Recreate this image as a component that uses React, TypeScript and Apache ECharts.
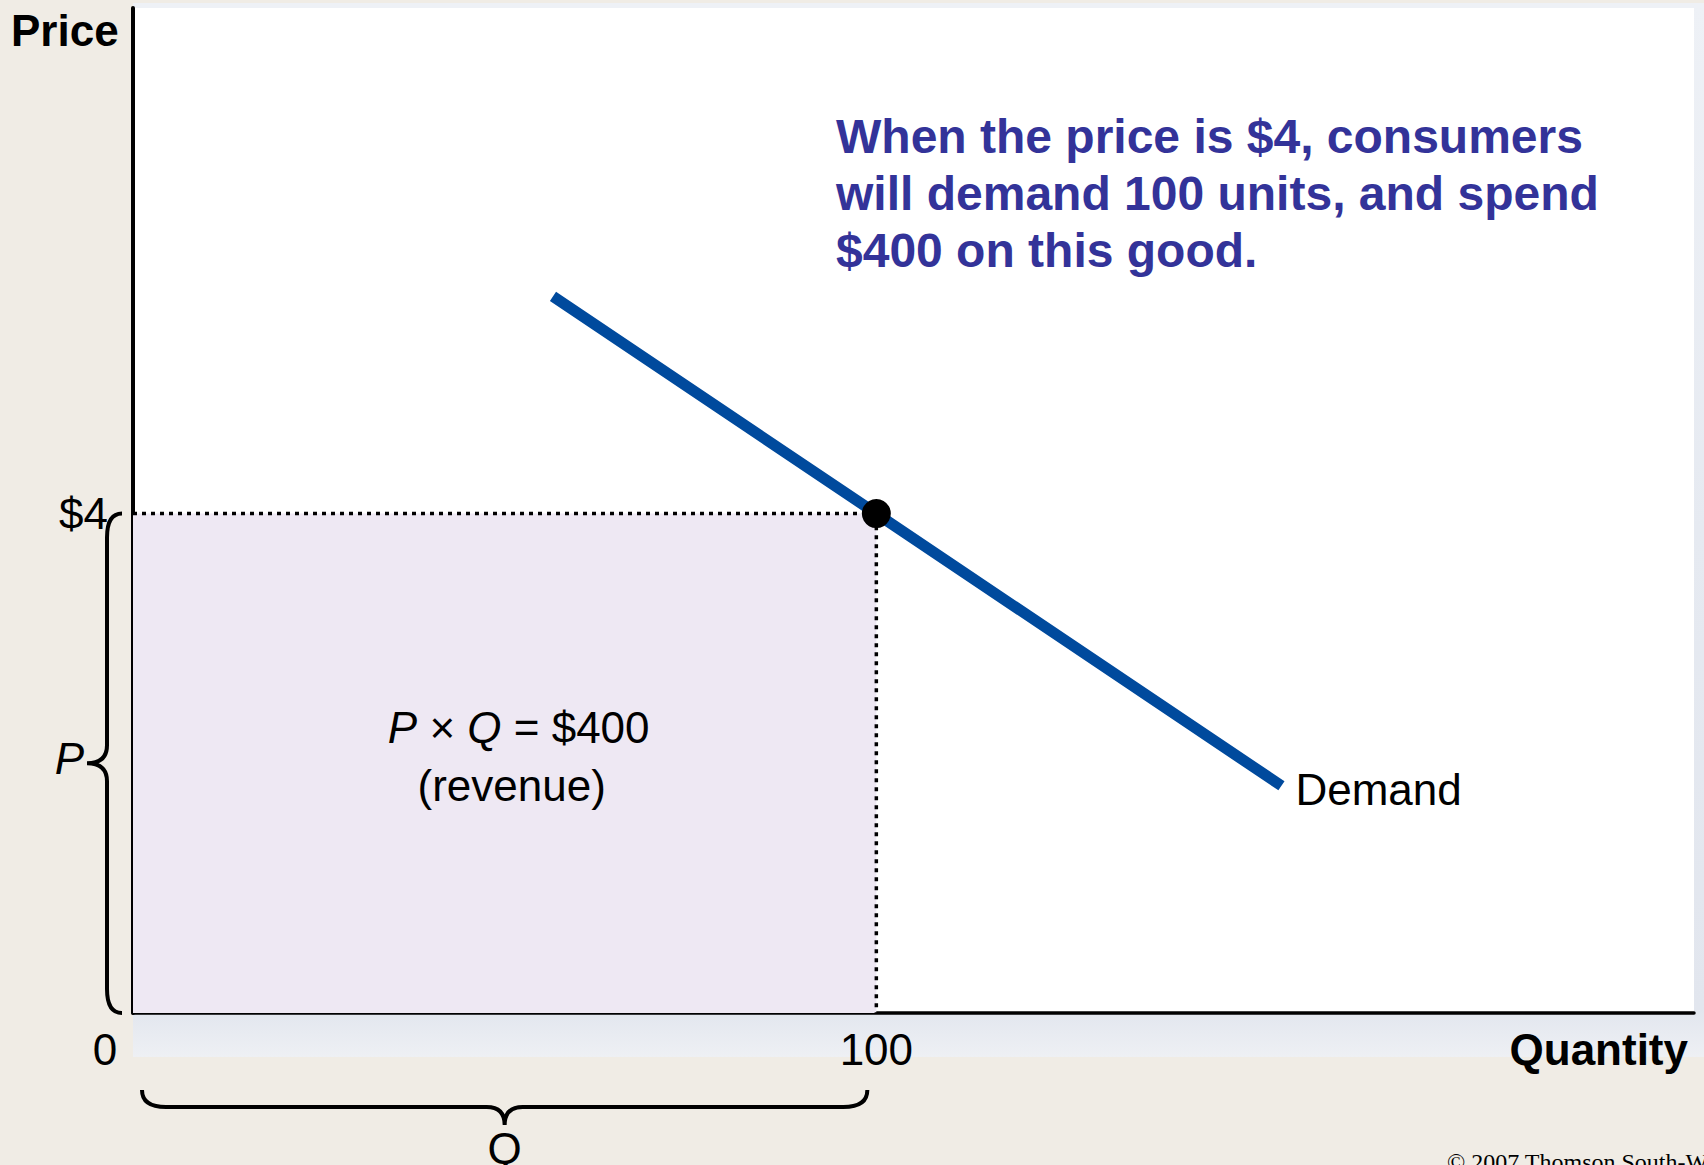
import React, { useEffect, useRef } from 'react';
import * as echarts from 'echarts';

// ---- data ----
const quantityRange = [0, 210];
const priceRange = [0, 8.05];
const demandQuantity = [56.5, 100, 154.5];
const demandPrice = [5.74, 4, 1.82];
const pointQuantity = 100;
const pointPrice = 4;
const xTickValues = [100];
const yTickValues = [4];
const annotationLines = [
  'When the price is $4, consumers',
  'will demand 100 units, and spend',
  '$400 on this good.',
];
const revenueLines = ['{i|P} × {i|Q} = $400', '(revenue)'];

const SANS = '"Liberation Sans", Arial, Helvetica, sans-serif';
const SERIF = '"Liberation Serif", "Times New Roman", serif';

export default function App() {
  const ref = useRef<HTMLDivElement>(null);

  useEffect(() => {
    const chart = echarts.init(ref.current!, null, { renderer: 'svg' });

    chart.setOption({
      animation: false,
      backgroundColor: '#F0ECE5',
      grid: { left: 133, right: 10, top: 8, bottom: 152, containLabel: false, outerBoundsMode: 'none' },
      xAxis: {
        type: 'value',
        min: quantityRange[0],
        max: quantityRange[1],
        interval: 100,
        axisLine: { show: true, onZero: false, lineStyle: { color: '#000', width: 3.5 } },
        axisTick: { show: false },
        splitLine: { show: false },
        axisLabel: {
          formatter: (v: number) => (xTickValues.includes(v) ? String(v) : ''),
          fontSize: 44,
          color: '#000',
          fontFamily: SANS,
          margin: 14,
          showMaxLabel: false,
        },
      },
      yAxis: {
        type: 'value',
        min: priceRange[0],
        max: priceRange[1],
        interval: 4,
        axisLine: { show: true, onZero: false, lineStyle: { color: '#000', width: 4 } },
        axisTick: { show: false },
        splitLine: { show: false },
        axisLabel: {
          formatter: (v: number) => (yTickValues.includes(v) ? '$' + v : ''),
          fontSize: 44,
          color: '#000',
          fontFamily: SANS,
          margin: 25,
          showMaxLabel: false,
        },
      },
      series: [
        {
          type: 'line',
          data: [
            [0, pointPrice],
            [pointQuantity, pointPrice],
            [pointQuantity, 0],
          ],
          symbol: 'none',
          lineStyle: { color: '#000', width: 3.5, type: [4, 5] },
          z: 3,
          silent: true,
          markArea: {
            silent: true,
            itemStyle: { color: '#EEE8F3', borderWidth: 0 },
            data: [[{ coord: [0, 0] }, { coord: [pointQuantity, pointPrice] }]],
          },
        },
        {
          type: 'line',
          data: demandQuantity.map((q, i) => [q, demandPrice[i]]),
          symbol: 'none',
          lineStyle: { color: '#004A9D', width: 11, cap: 'butt' },
          z: 4,
          silent: true,
        },
        {
          type: 'scatter',
          data: [[pointQuantity, pointPrice]],
          symbolSize: 29,
          itemStyle: { color: '#000', opacity: 1 },
          z: 5,
          silent: true,
        },
      ],
    });

    const O = chart.convertToPixel({ gridIndex: 0 }, [0, 0]) as number[];
    const A = chart.convertToPixel({ gridIndex: 0 }, [pointQuantity, pointPrice]) as number[];
    const TR = chart.convertToPixel({ gridIndex: 0 }, [quantityRange[1], priceRange[1]]) as number[];
    const last = demandQuantity.length - 1;
    const E = chart.convertToPixel({ gridIndex: 0 }, [demandQuantity[last], demandPrice[last]]) as number[];

    // P brace (vertical, pointing left)
    const xe = O[0] - 11, xl = O[0] - 26, xt = O[0] - 46;
    const y0 = A[1], y1 = O[1], ym = (y0 + y1) / 2;
    const re = 24, rm = 18;
    const dP = `M${xe} ${y0} Q${xl} ${y0} ${xl} ${y0 + re} L${xl} ${ym - rm} Q${xl} ${ym} ${xt} ${ym} Q${xl} ${ym} ${xl} ${ym + rm} L${xl} ${y1 - re} Q${xl} ${y1} ${xe} ${y1}`;

    // Q brace (horizontal, pointing down)
    const x0 = O[0] + 9, x1 = A[0] - 9, xm = (x0 + x1) / 2;
    const ye = O[1] + 77, yl = O[1] + 94, yt = O[1] + 112;
    const dQ = `M${x0} ${ye} Q${x0} ${yl} ${x0 + re} ${yl} L${xm - rm} ${yl} Q${xm} ${yl} ${xm} ${yt} Q${xm} ${yl} ${xm + rm} ${yl} L${x1 - re} ${yl} Q${x1} ${yl} ${x1} ${ye}`;

    echarts.graphic.registerShape('braceP', echarts.graphic.extendPath(dP, {}));
    echarts.graphic.registerShape('braceQ', echarts.graphic.extendPath(dQ, {}));

    const rectCx = (O[0] + A[0]) / 2;

    chart.setOption({
      graphic: {
        elements: [
          {
            type: 'rect',
            z: -10,
            silent: true,
            shape: { x: O[0], y: TR[1] - 5, width: 1704 - O[0], height: O[1] + 44 - (TR[1] - 5) },
            style: {
              fill: new echarts.graphic.LinearGradient(0, 0, 0, 1, [
                { offset: 0, color: '#EEF1F6' },
                { offset: 0.5, color: '#E6EAF1' },
                { offset: 0.955, color: '#E2E6EE' },
                { offset: 1, color: '#EEF0F4' },
              ]),
            },
          },
          {
            type: 'rect',
            z: -9,
            silent: true,
            shape: { x: O[0], y: TR[1], width: TR[0] - O[0], height: O[1] - TR[1] },
            style: { fill: '#FFFFFF' },
          },
          {
            type: 'braceP',
            z: 10,
            x: 0,
            y: 0,
            scaleX: 1,
            scaleY: 1,
            style: { fill: 'none', stroke: '#000', lineWidth: 4 },
          },
          {
            type: 'braceQ',
            z: 10,
            x: 0,
            y: 0,
            scaleX: 1,
            scaleY: 1,
            style: { fill: 'none', stroke: '#000', lineWidth: 4 },
          },
          {
            type: 'text',
            z: 10,
            x: 11,
            y: 30,
            style: { text: 'Price', fontSize: 44, fontWeight: 'bold', fontFamily: SANS, fill: '#000', align: 'left', verticalAlign: 'middle' },
          },
          {
            type: 'text',
            z: 10,
            x: TR[0] - 6,
            y: O[1] + 36,
            style: { text: 'Quantity', fontSize: 44, fontWeight: 'bold', fontFamily: SANS, fill: '#000', align: 'right', verticalAlign: 'middle' },
          },
          {
            type: 'text',
            z: 10,
            x: O[0] - 28,
            y: O[1] + 36,
            style: { text: '0', fontSize: 44, fontFamily: SANS, fill: '#000', align: 'center', verticalAlign: 'middle' },
          },
          {
            type: 'text',
            z: 10,
            x: xt - 3,
            y: ym - 5,
            style: { text: 'P', fontSize: 44, fontStyle: 'italic', fontFamily: SANS, fill: '#000', align: 'right', verticalAlign: 'middle' },
          },
          {
            type: 'text',
            z: 10,
            x: xm,
            y: O[1] + 135,
            style: { text: 'Q', fontSize: 44, fontFamily: SANS, fill: '#000', align: 'center', verticalAlign: 'middle' },
          },
          {
            type: 'text',
            z: 10,
            x: rectCx + 14,
            y: 727,
            style: {
              text: revenueLines[0],
              fontSize: 44,
              fontFamily: SANS,
              fill: '#000',
              align: 'center',
              verticalAlign: 'middle',
              rich: { i: { fontStyle: 'italic', fontSize: 44, fontFamily: SANS, fill: '#000' } },
            },
          },
          {
            type: 'text',
            z: 10,
            x: rectCx + 7,
            y: 785,
            style: { text: revenueLines[1], fontSize: 44, fontFamily: SANS, fill: '#000', align: 'center', verticalAlign: 'middle' },
          },
          {
            type: 'text',
            z: 10,
            x: E[0] + 14,
            y: E[1] + 4,
            style: { text: 'Demand', fontSize: 44, fontFamily: SANS, fill: '#000', align: 'left', verticalAlign: 'middle' },
          },
          {
            type: 'text',
            z: 10,
            x: 836,
            y: 108,
            style: {
              text: annotationLines.join('\n'),
              fontSize: 48,
              lineHeight: 57,
              fontWeight: 'bold',
              fontFamily: SANS,
              fill: '#333399',
              align: 'left',
              verticalAlign: 'top',
            },
          },
          {
            type: 'text',
            z: 10,
            x: 1447,
            y: 1150,
            style: { text: '© 2007 Thomson South-Western', fontSize: 24, fontFamily: SERIF, fill: '#000', align: 'left', verticalAlign: 'top' },
          },
        ],
      },
    });

    return () => chart.dispose();
  }, []);

  return <div ref={ref} style={{ position: 'fixed', left: 0, top: 0, width: 1704, height: 1165 }} />;
}
